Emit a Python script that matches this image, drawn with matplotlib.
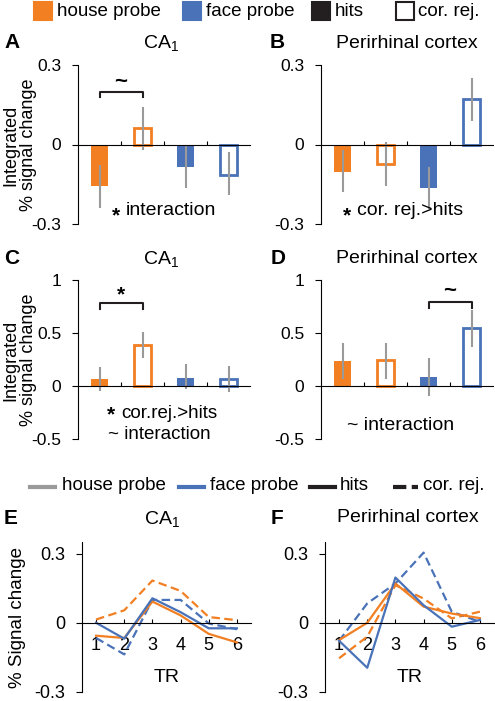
import matplotlib
matplotlib.use('Agg')
import matplotlib.pyplot as plt
from matplotlib.patches import Rectangle
from matplotlib.lines import Line2D
from matplotlib.transforms import IdentityTransform

plt.rcParams['font.family'] = ['Liberation Sans', 'DejaVu Sans']
plt.rcParams['axes.unicode_minus'] = False
plt.rcParams['mathtext.fontset'] = 'custom'
plt.rcParams['mathtext.rm'] = 'Liberation Sans'

ORANGE = '#F27F22'
BLUE = '#4A72B8'
GRAY = '#9A9A9A'
DARK = '#231F20'

# bar order: house hits, house cor. rej., face hits, face cor. rej.
bar_colors = [ORANGE, ORANGE, BLUE, BLUE]
bar_filled = [True, False, True, False]

# integrated % signal change (mean, error bar low, error bar high)
ca1_a = [-0.158, 0.062, -0.085, -0.115]
ca1_a_lo = [-0.238, -0.02, -0.165, -0.19]
ca1_a_hi = [-0.077, 0.14, 0.0, -0.03]
prc_b = [-0.104, -0.073, -0.165, 0.172]
prc_b_lo = [-0.18, -0.155, -0.245, 0.09]
prc_b_hi = [-0.02, 0.01, -0.085, 0.25]
ca1_c = [0.066, 0.39, 0.08, 0.07]
ca1_c_lo = [-0.05, 0.26, -0.03, -0.06]
ca1_c_hi = [0.18, 0.51, 0.21, 0.19]
prc_d = [0.235, 0.245, 0.085, 0.545]
prc_d_lo = [0.07, 0.07, -0.09, 0.37]
prc_d_hi = [0.41, 0.41, 0.26, 0.72]

# time courses (% signal change per TR)
tr = [1, 2, 3, 4, 5, 6]
e_house_hits = [-0.056, -0.066, 0.092, 0.032, -0.048, -0.085]
e_house_cr = [0.014, 0.054, 0.183, 0.138, 0.025, 0.011]
e_face_hits = [0.0, -0.069, 0.106, 0.046, -0.024, -0.024]
e_face_cr = [-0.066, -0.137, 0.099, 0.099, -0.003, -0.028]
f_house_hits = [-0.075, 0.0, 0.17, 0.07, 0.04, 0.02]
f_house_cr = [-0.154, -0.06, 0.163, 0.105, 0.019, 0.048]
f_face_hits = [-0.078, -0.195, 0.196, 0.076, -0.017, 0.012]
f_face_cr = [-0.078, 0.084, 0.17, 0.304, 0.048, 0.004]

legend_labels = ['house probe', 'face probe', 'hits', 'cor. rej.']

W, H = 495, 701
fig = plt.figure(figsize=(W / 100, H / 100), dpi=100)
renderer = fig.canvas.get_renderer()


def rect(l, r, t, b):
    return [l / W, 1 - b / H, (r - l) / W, (b - t) / H]


def ftext(x, y, s, **kw):
    fig.text(x / W, 1 - y / H, s, **kw)


def bar_axes(r, vals, lo, hi, ylim, yticks, ylabels):
    ax = fig.add_axes(r)
    ax.patch.set_alpha(0)
    for i in range(4):
        if bar_filled[i]:
            ax.bar(i, vals[i], 0.4, color=bar_colors[i], zorder=2)
        else:
            ax.bar(i, vals[i], 0.38, facecolor='white', edgecolor=bar_colors[i],
                   linewidth=2, zorder=2)
        ax.vlines(i, lo[i], hi[i], color=GRAY, lw=1.5, zorder=3)
    ax.set_xlim(-0.5, 3.5)
    ax.set_ylim(*ylim)
    ax.spines['top'].set_visible(False)
    ax.spines['right'].set_visible(False)
    ax.spines['bottom'].set_position(('data', 0))
    ax.spines['bottom'].set_zorder(4)
    ax.set_xticks([0.5, 1.5, 2.5])
    ax.set_xticklabels([])
    ax.tick_params(axis='x', direction='in', length=3)
    ax.set_yticks(yticks)
    ax.set_yticklabels(ylabels)
    ax.tick_params(axis='y', direction='out', length=4, pad=8, labelsize=12.5)
    return ax


def note(ax, x, y, s, size=14, drop=5):
    # bold star followed by normal text, the pair centred on (x, y)
    cx, cy = ax.transData.transform((x, y))
    t = ax.text(0, 0, s, transform=IdentityTransform(), ha='left', va='center',
                fontsize=size)
    w = t.get_window_extent(renderer).width
    left = cx - (w + 14) / 2
    t.set_position((left + 14, cy))
    ax.text(left, cy - drop, '*', transform=IdentityTransform(), ha='left',
            va='center', fontsize=15, fontweight='bold')


def line_axes(r, hh, hc, fh, fc):
    ax = fig.add_axes(r)
    ax.patch.set_alpha(0)
    dash = (0, (3.8, 2))
    ax.plot(tr, hc, color=ORANGE, lw=1.6, ls=dash)
    ax.plot(tr, fc, color=BLUE, lw=1.6, ls=dash)
    ax.plot(tr, hh, color=ORANGE, lw=1.6)
    ax.plot(tr, fh, color=BLUE, lw=1.6)
    ax.set_xlim(0.5, 6.5)
    ax.set_ylim(-0.3, 0.35)
    ax.spines['top'].set_visible(False)
    ax.spines['right'].set_visible(False)
    ax.spines['bottom'].set_position(('data', 0))
    ax.set_xticks(tr)
    ax.set_xticklabels([str(t) for t in tr])
    ax.tick_params(axis='x', direction='in', length=3, pad=10, labelsize=13)
    ax.set_yticks([-0.3, 0, 0.3])
    ax.set_yticklabels(['-0.3', '0', '0.3'])
    ax.tick_params(axis='y', direction='out', length=4, pad=8, labelsize=13)
    ax.text(3.5, -0.235, 'TR', ha='center', va='center', fontsize=14)
    return ax


# top legend (bars), laid out like the figure
square_x = [34, 183, 312, 396]
text_x = [57, 206, 335, 418]
square_face = [ORANGE, BLUE, DARK, 'white']
for sx, tx, fc, lab in zip(square_x, text_x, square_face, legend_labels):
    fig.patches.append(Rectangle((sx / W, 1 - 20 / H), 18 / W, 18 / H, facecolor=fc,
                                 edgecolor=DARK if fc == 'white' else fc, lw=1.5,
                                 transform=fig.transFigure))
    ftext(tx, 11, lab, fontsize=13.5, ha='left', va='center')

# A
axA = bar_axes(rect(78, 250, 65, 224), ca1_a, ca1_a_lo, ca1_a_hi,
               (-0.3, 0.3), [-0.3, 0, 0.3], ['-0.3', '0', '0.3'])
axA.plot([0, 0, 1, 1], [0.18, 0.2, 0.2, 0.18], color=DARK, lw=1.5)
axA.text(0.5, 0.235, '~', ha='center', va='center', fontsize=16, fontweight='bold')
note(axA, 1.5, -0.25, 'interaction')

# B
axB = bar_axes(rect(321, 493, 65, 224), prc_b, prc_b_lo, prc_b_hi,
               (-0.3, 0.3), [-0.3, 0, 0.3], ['-0.3', '0', '0.3'])
note(axB, 1.4, -0.25, 'cor. rej.>hits')

# C
axC = bar_axes(rect(78, 250, 280, 439), ca1_c, ca1_c_lo, ca1_c_hi,
               (-0.5, 1), [-0.5, 0, 0.5, 1], ['-0.5', '0', '0.5', '1'])
axC.plot([0, 0, 1, 1], [0.73, 0.78, 0.78, 0.73], color=DARK, lw=1.5)
axC.text(0.5, 0.86, '*', ha='center', va='center', fontsize=15, fontweight='bold')
note(axC, 1.45, -0.255, 'cor.rej.>hits', size=13.5, drop=2)
axC.text(1.4, -0.455, '~ interaction', ha='center', va='center', fontsize=13.5)

# D
axD = bar_axes(rect(321, 493, 280, 439), prc_d, prc_d_lo, prc_d_hi,
               (-0.5, 1), [-0.5, 0, 0.5, 1], ['-0.5', '0', '0.5', '1'])
axD.plot([2, 2, 3, 3], [0.74, 0.79, 0.79, 0.74], color=DARK, lw=1.5)
axD.text(2.5, 0.89, '~', ha='center', va='center', fontsize=16, fontweight='bold')
axD.text(1.35, -0.37, '~ interaction', ha='center', va='center', fontsize=14)

# line legend
line_x = [30, 179, 310, 393]
line_text_x = [62, 210, 340, 423]
line_colors = [GRAY, BLUE, DARK, DARK]
line_styles = ['-', '-', '-', (0, (3.2, 1.3))]
for lx, tx, c, ls, lab in zip(line_x, line_text_x, line_colors, line_styles, legend_labels):
    fig.lines.append(Line2D([lx / W, (lx + 25) / W], [1 - 487 / H] * 2, color=c, lw=3,
                            ls=ls, transform=fig.transFigure))
    ftext(tx, 486, lab, fontsize=13.5, ha='left', va='center')

# E, F
line_axes(rect(82, 251, 542, 692), e_house_hits, e_house_cr, e_face_hits, e_face_cr)
line_axes(rect(325, 494, 542, 692), f_house_hits, f_house_cr, f_face_hits, f_face_cr)

# panel letters and titles
for letter, x, y in [('A', 4, 43), ('B', 270, 43), ('C', 4, 259), ('D', 271, 259),
                     ('E', 4, 518), ('F', 271, 518)]:
    ftext(x, y, letter, fontsize=15, fontweight='bold', ha='left', va='center')
for title, x, y in [('CA$_1$', 161, 44), ('Perirhinal cortex', 407, 43),
                    ('CA$_1$', 161, 260), ('Perirhinal cortex', 407, 258),
                    ('CA$_1$', 162, 520), ('Perirhinal cortex', 408, 518)]:
    ftext(x, y, title, fontsize=14, ha='center', va='center')

# y labels
for yc in [145, 360]:
    ftext(20, yc, 'Integrated\n% signal change', rotation=90, ha='center', va='center',
          fontsize=13, linespacing=1.05, multialignment='center')
ftext(18, 617, '% Signal change', rotation=90, ha='center', va='center', fontsize=13.5)

fig.savefig('out.png', dpi=100)
